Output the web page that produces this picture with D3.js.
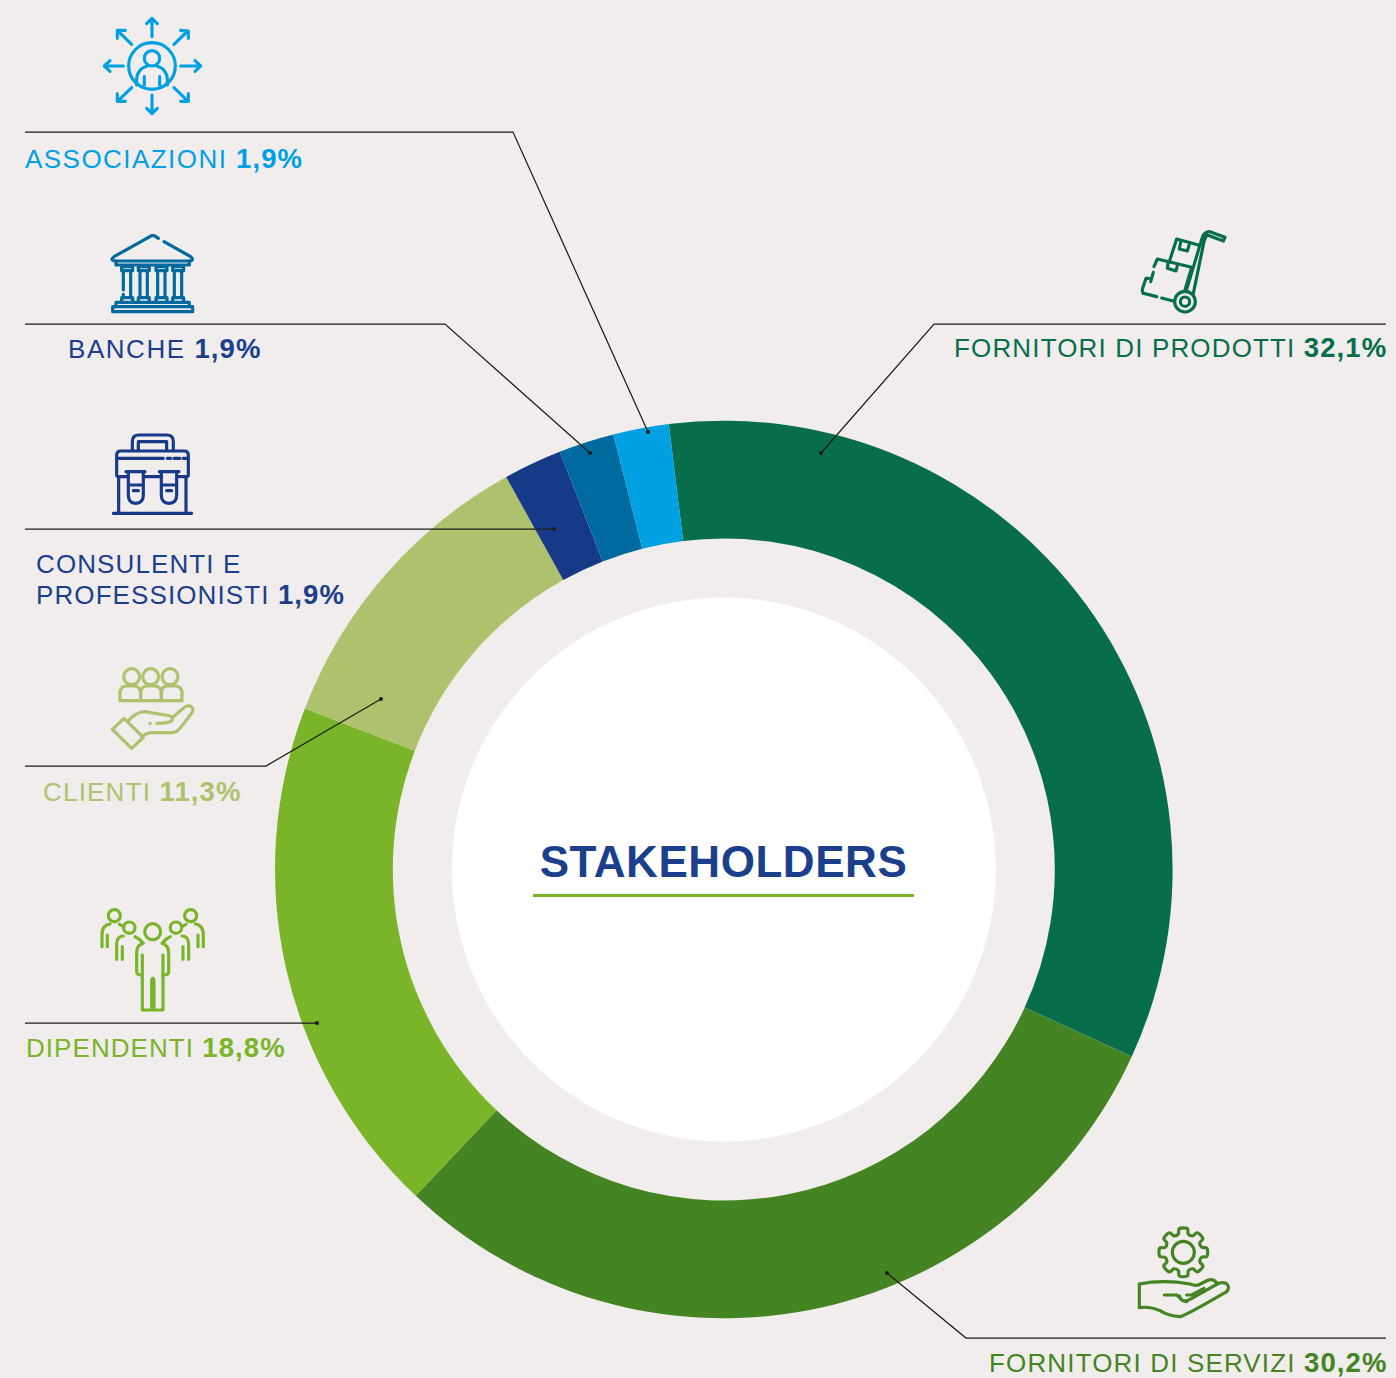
<!DOCTYPE html>
<html>
<head>
<meta charset="utf-8">
<script src="https://cdn.jsdelivr.net/npm/d3@7"></script>
<style>
    html, body { margin: 0; padding: 0; background: #f0edec; }
    svg { display: block; }
    text { font-family: "Liberation Sans", Arial, sans-serif; }
</style>
</head>
<body>
<div id="chart"></div>
<script>
//          Chart data
var categories = ["FORNITORI DI PRODOTTI", "FORNITORI DI SERVIZI", "DIPENDENTI", "CLIENTI", "CONSULENTI E PROFESSIONISTI", "BANCHE", "ASSOCIAZIONI"];
var percentLabels = ["32,1%", "30,2%", "18,8%", "11,3%", "1,9%", "1,9%", "1,9%"];
// slice sizes as drawn in the picture, they differ a little from the printed labels
var sliceShares = [33.8, 30.2, 18.8, 11.1, 2.1, 2.0, 2.0];
var sliceColors = ["#076d4b", "#458423", "#7ab428", "#aec16d", "#163a87", "#006a9e", "#00a0e3"];
var labelColors = ["#076d4b", "#458423", "#7ab428", "#aec16d", "#1c3f8c", "#1c3f8c", "#00a0e3"];

//          Chart settings
var w = 1396, h = 1378;
var cx = 723.8, cy = 869.5;
var outerR = 448.8, innerR = 331, centerR = 272;
var startDeg = -7.05;

var svg = d3.select("#chart").append("svg").attr("width", w).attr("height", h);
svg.append("rect").attr("width", w).attr("height", h).attr("fill", "#f0edec");

var pie = d3.pie().sort(null)
    .startAngle(startDeg * Math.PI / 180)
    .endAngle((startDeg + 360) * Math.PI / 180);
var arc = d3.arc().innerRadius(innerR).outerRadius(outerR);

var donut = svg.append("g").attr("transform", "translate(" + cx + "," + cy + ")");
donut.selectAll("path").data(pie(sliceShares)).enter().append("path")
    .attr("d", arc)
    .attr("fill", function(d, i) { return sliceColors[i]; });
donut.append("circle").attr("r", centerR).attr("fill", "#fff");

//          Center title
svg.append("text").text("STAKEHOLDERS")
    .attr("x", 723.5).attr("y", 877)
    .attr("text-anchor", "middle")
    .attr("font-weight", "bold").attr("font-size", 44).attr("letter-spacing", 0.55)
    .attr("fill", "#1c3f8c");
svg.append("line").attr("x1", 533).attr("x2", 914).attr("y1", 895.5).attr("y2", 895.5)
    .attr("stroke", "#7ab428").attr("stroke-width", 3);

//          Leader lines
var leaders = [
    { pts: [[1386, 324], [934, 324], [821, 453]] },
    { pts: [[1386, 1338], [966, 1338], [887, 1273]] },
    { pts: [[25, 1023], [317, 1023]] },
    { pts: [[25, 766], [266, 766], [381, 699]] },
    { pts: [[25, 529], [554, 529]] },
    { pts: [[25, 324], [445, 324], [590, 453]] },
    { pts: [[25, 132], [513, 132], [648, 432]] }
];
var line = d3.line();
leaders.forEach(function(l) {
    svg.append("path").attr("d", line(l.pts))
        .attr("fill", "none").attr("stroke", "#1d1d1b").attr("stroke-width", 1.25);
    var end = l.pts[l.pts.length - 1];
    svg.append("circle").attr("cx", end[0]).attr("cy", end[1]).attr("r", 2).attr("fill", "#1d1d1b");
});

//          Labels
var labelPos = [
    { x: 954, y: 357, sp: 1.15 },
    { x: 989, y: 1372.4, sp: 1.15 },
    { x: 26, y: 1057, sp: 1.05 },
    { x: 43, y: 801, sp: 1.2 },
    { x: 36, y: 573, sp: 1.1, wrap: ["CONSULENTI E", "PROFESSIONISTI"], lh: 31 },
    { x: 68, y: 358, sp: 1.55 },
    { x: 25, y: 168, sp: 1.45 }
];
categories.forEach(function(name, i) {
    var p = labelPos[i];
    var t = svg.append("text").attr("font-size", 26).attr("fill", labelColors[i]);
    var lines = p.wrap || [name];
    lines.forEach(function(s, k) {
        t.append("tspan").attr("x", p.x).attr("y", p.y + k * (p.lh || 0))
            .attr("letter-spacing", p.sp).text(s + " ");
        if (k === lines.length - 1)
            t.append("tspan").attr("font-weight", "bold").attr("font-size", 27.5)
                .attr("letter-spacing", 1.1).text(percentLabels[i]);
    });
});

//          Icons, outlined by hand on a 3x grid
function icon(x, y, color, paths, circles) {
    var g = svg.append("g")
        .attr("transform", "translate(" + x + "," + y + ") scale(0.3333)")
        .attr("fill", "none").attr("stroke", color).attr("stroke-width", 9.5)
        .attr("stroke-linecap", "round").attr("stroke-linejoin", "round");
    paths.forEach(function(d) { g.append("path").attr("d", d); });
    (circles || []).forEach(function(c) { g.append("circle").attr("cx", c[0]).attr("cy", c[1]).attr("r", c[2]); });
}

// associazioni
icon(90, 5, sliceColors[6], [
    "M186 95V42M170 56L186 40L202 56",
    "M186 270V325M170 310L186 326L202 310",
    "M100 183H45M60 167L43 183L60 199",
    "M272 183H330M315 167L332 183L315 199",
    "M125 118L84 78M82 100L82 76L106 76",
    "M252 118L293 78M272 76L295 78L295 100",
    "M125 248L84 288M82 266L82 289L106 289",
    "M252 248L293 288M295 266L295 289L272 289",
    "M140 240V222Q142 190 172 183M232 240V222Q230 190 200 183",
    "M163 215V240M209 215V240"
], [[186, 183, 70], [186, 160, 23]]);

// banche
icon(100, 225, sliceColors[5], [
    "M155 32L42 95Q28 105 45 108H268Q285 105 272 95L192 50M155 32H163L175 40",
    "M48 108V120H268V108",
    "M65 125H98V137H65ZM115 125H148V137H115ZM168 125H201V137H168ZM218 125H251V137H218Z",
    "M70 137V195M70 208V218M92 137V218M120 137V218M142 137V218M173 137V218M195 137V218M223 137V218M245 137V218",
    "M65 230V218H98V230M115 230V218H148V230M168 230V218H201V230M218 230V218H251V230",
    "M48 245V232H268V245",
    "M38 245H278V260H38Z"
]);

// consulenti
icon(100, 425, sliceColors[4], [
    "M97 75V50Q97 30 117 30H200Q220 30 220 50V75M115 75V50H200V75",
    "M50 150V90Q50 78 62 78H253Q265 78 265 90V150Q265 155 258 155H232M130 155H185M85 155H58Q50 155 50 150",
    "M55 100H190M202 100H212M222 100H240M250 100H262",
    "M56 155V265M258 155V265M40 265H275",
    "M78 140H135M85 140V210Q85 235 107 235Q130 235 130 210V140M85 180H130M100 197H115",
    "M178 140H237M184 140V210Q184 235 207 235Q230 235 230 210V140M184 180H230M200 197H215"
]);

// clienti
icon(100, 660, sliceColors[3], [
    "M60 122V100Q60 78 82 78H100Q122 78 122 100V122Z",
    "M122 122V100Q122 78 142 78H162Q184 78 184 100V122Z",
    "M184 122V100Q184 78 204 78H224Q246 78 246 100V122Z",
    "M37 208L72 175L130 232L95 265Z",
    "M85 182Q110 155 135 155L195 165Q225 168 215 182Q208 190 170 190",
    "M150 190H151",
    "M125 230Q140 218 160 218H215Q230 218 240 205L275 160Q285 145 270 138Q258 135 250 145L220 170"
], [[95, 50, 24], [152, 50, 24], [210, 50, 24]]);

// dipendenti
icon(90, 900, sliceColors[2], [
    "M160 130Q140 135 140 160V215Q140 225 157 225V165",
    "M216 130Q236 135 236 160V215Q236 225 219 225V165",
    "M157 225V330H185V245Q185 235 188 235Q192 235 192 245V330H219V225",
    "M80 178V130Q82 108 100 108M97 140V178",
    "M296 178V130Q294 108 276 108M279 140V178",
    "M36 140V100Q38 75 60 72M52 105V140",
    "M340 140V100Q338 75 316 72M324 105V140",
    "M135 110Q148 115 158 128M241 110Q228 115 218 128",
    "M88 73Q95 78 100 80M288 73Q281 78 276 80"
], [[188, 95, 24], [118, 83, 17], [258, 83, 17], [73, 47, 18], [302, 47, 18]]);

// fornitori di prodotti
icon(1130, 225, sliceColors[0], [
    "M168 200L213 50Q220 18 240 20L285 37L280 48L232 30Q226 35 222 50L190 205",
    "M40 205L80 215M95 219L130 228",
    "M40 205Q35 200 38 190L48 160H56",
    "M62 170L70 142M72 125L82 102L185 127L165 195",
    "M118 110L140 42L205 60",
    "M152 52L148 72L172 78L178 58",
    "M115 110L112 130L138 138L143 118"
], [[165, 230, 31], [165, 230, 14]]);

// fornitori di servizi
var gearPts = [];
for (var a = 0; a < 8; a++) {
    var base = a * Math.PI / 4 - Math.PI / 2;
    [[-0.17, 72], [0.17, 72], [0.26, 57], [0.52, 57]].forEach(function(p) {
        gearPts.push([160 + p[1] * Math.cos(base + p[0]), 97 + p[1] * Math.sin(base + p[0])]);
    });
}
icon(1130, 1220, sliceColors[1], [
    d3.line().curve(d3.curveCatmullRomClosed.alpha(0.2))(gearPts),
    "M28 192V263Q60 258 90 272Q115 288 150 290Q165 288 290 215Q302 200 288 190Q275 185 262 192L180 238Q165 246 155 240L140 225H103",
    "M28 192Q100 178 180 192Q195 198 205 195L235 180Q250 175 262 190",
    "M148 228Q155 245 170 245M170 225H185L222 205"
], [[160, 97, 33]]);
</script>
</body>
</html>
